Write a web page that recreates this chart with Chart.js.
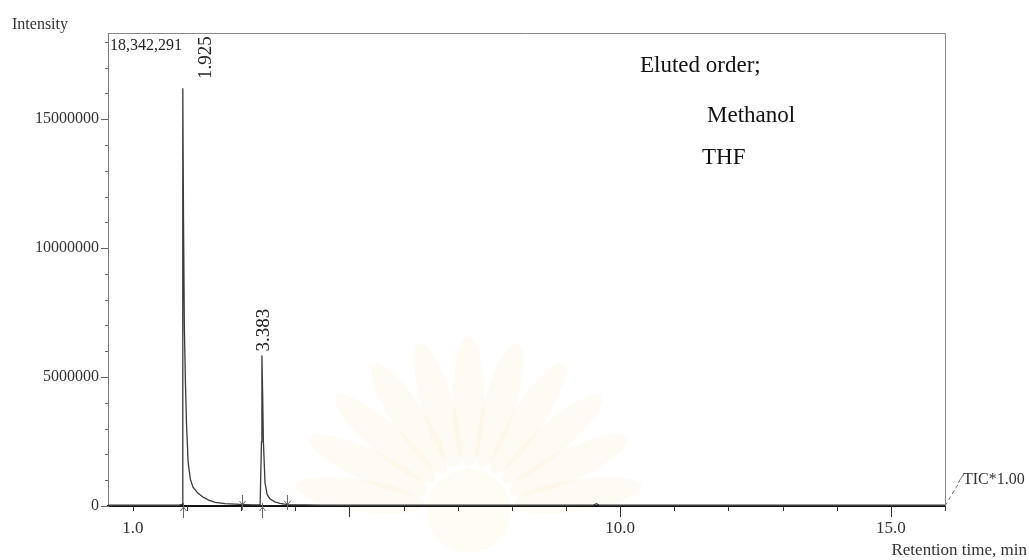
<!DOCTYPE html>
<html>
<head>
<meta charset="utf-8">
<script src="https://cdn.jsdelivr.net/npm/chart.js@4.4.1/dist/chart.umd.min.js"></script>
<style>
  html, body { margin: 0; padding: 0; background: #fff; }
  #wrap { width: 1029px; height: 560px; }
</style>
</head>
<body>
<div id="wrap"><canvas id="chromChart" width="1029" height="560"></canvas></div>
<script>
// chromatogram trace (retention time in min, intensity in counts)
const retentionTimes = [0.54, 1.0, 1.5, 1.85, 1.91, 1.918, 1.925, 1.935, 1.95, 1.97, 1.99, 2.02, 2.06, 2.11, 2.2, 2.29, 2.4, 2.52, 2.7, 2.98, 3.2, 3.35, 3.375, 3.383, 3.395, 3.41, 3.44, 3.48, 3.53, 3.62, 3.72, 3.85, 4.5, 9.5, 9.56, 9.62, 16.0];
const intensities = [30000, 30000, 30000, 30000, 60000, 6000000, 16200000, 11000000, 7000000, 4800000, 3200000, 1700000, 1050000, 730000, 500000, 350000, 230000, 140000, 90000, 60000, 40000, 40000, 2500000, 5840000, 4500000, 2500000, 900000, 450000, 280000, 160000, 100000, 50000, 30000, 30000, 90000, 30000, 30000];

// peak labels
const peakTimes = [1.925, 3.383];
const peakHeights = [16200000, 5840000];
const peakLabels = ['1.925', '3.383'];

// integration markers
const peakStartMarks = [1.925, 3.383];
const peakEndMarks = [3.01, 3.85];

// axes
const yMax = 18342291;
const yTickLabels = [0, 5000000, 10000000, 15000000];
const xTickLabels = [1.0, 10.0, 15.0];
const xMajorTicks = [5, 10, 15];

const serif = '"Liberation Serif", "Times New Roman", serif';

const points = retentionTimes.map((t, i) => ({ x: t, y: intensities[i] }));

const decorPlugin = {
    id: 'decor',
    beforeDraw(chart) {
        // faint watermark behind the trace
        const { ctx } = chart;
        const cx = chart.scales.x.getPixelForValue(7.2);
        const cy = chart.scales.y.getPixelForValue(0) + 5;
        ctx.save();
        for (let k = 0; k < 11; k++) {
            const a = Math.PI + (k + 0.5) * Math.PI / 11;
            ctx.save();
            ctx.translate(cx + Math.cos(a) * 110, cy + Math.sin(a) * 110);
            ctx.rotate(a);
            ctx.fillStyle = 'rgba(250, 228, 175, 0.14)';
            ctx.beginPath();
            ctx.ellipse(0, 0, 65, 16, 0, 0, Math.PI * 2);
            ctx.fill();
            ctx.restore();
        }
        ctx.fillStyle = 'rgba(250, 228, 175, 0.12)';
        ctx.beginPath();
        ctx.arc(cx, cy, 42, 0, Math.PI * 2);
        ctx.fill();
        ctx.restore();
    },
    afterDraw(chart) {
        const { ctx, chartArea: area } = chart;
        const xs = chart.scales.x;
        const ys = chart.scales.y;
        const y0 = ys.getPixelForValue(0);
        ctx.save();

        // top and right frame
        ctx.strokeStyle = '#8a8a8a';
        ctx.lineWidth = 1;
        ctx.beginPath();
        ctx.moveTo(area.left, area.top + 0.5);
        ctx.lineTo(area.right + 0.5, area.top + 0.5);
        ctx.lineTo(area.right + 0.5, y0);
        ctx.stroke();

        // y tick marks
        ctx.strokeStyle = '#666';
        ys.ticks.forEach(t => {
            const py = Math.round(ys.getPixelForValue(t.value)) + 0.5;
            const len = t.value % 5000000 === 0 ? 7 : 3;
            ctx.beginPath();
            ctx.moveTo(area.left - len, py);
            ctx.lineTo(area.left, py);
            ctx.stroke();
        });

        // x tick marks
        ctx.strokeStyle = '#333';
        xs.ticks.forEach(t => {
            const px = Math.round(xs.getPixelForValue(t.value)) + 0.5;
            const len = xMajorTicks.includes(t.value) ? 11 : 5;
            ctx.beginPath();
            ctx.moveTo(px, y0);
            ctx.lineTo(px, y0 + len);
            ctx.stroke();
        });

        // integration markers
        ctx.strokeStyle = '#666';
        peakStartMarks.forEach(t => {
            const px = Math.round(xs.getPixelForValue(t)) + 0.5;
            ctx.beginPath();
            ctx.moveTo(px, y0 + 12);
            ctx.lineTo(px, y0 - 3);
            ctx.moveTo(px - 3, y0 + 5);
            ctx.lineTo(px, y0 + 1);
            ctx.lineTo(px + 3, y0 + 5);
            ctx.stroke();
        });
        peakEndMarks.forEach(t => {
            const px = Math.round(xs.getPixelForValue(t)) + 0.5;
            ctx.beginPath();
            ctx.moveTo(px, y0 - 11);
            ctx.lineTo(px, y0 + 4);
            ctx.moveTo(px - 3, y0 - 5);
            ctx.lineTo(px, y0 - 1);
            ctx.lineTo(px + 3, y0 - 5);
            ctx.stroke();
        });

        // peak retention time labels (read bottom to top)
        ctx.fillStyle = '#222';
        ctx.font = '19px ' + serif;
        ctx.textAlign = 'left';
        ctx.textBaseline = 'middle';
        peakLabels.forEach((lab, i) => {
            let px = xs.getPixelForValue(peakTimes[i]) + 1;
            let py = ys.getPixelForValue(peakHeights[i]) - 4;
            if (py - 60 < area.top) {
                // no room above the peak: put the label beside it
                px += 21;
                py = area.top + 46;
            }
            ctx.save();
            ctx.translate(px, py);
            ctx.rotate(-Math.PI / 2);
            ctx.fillText(lab, 0, 1);
            ctx.restore();
        });

        // texts
        ctx.textAlign = 'left';
        ctx.textBaseline = 'alphabetic';
        ctx.fillStyle = '#333';
        ctx.font = '16px ' + serif;
        ctx.fillText('Intensity', 12, 29);
        ctx.fillStyle = '#222';
        ctx.fillText('18,342,291', area.left + 2, 50);

        ctx.fillStyle = '#111';
        ctx.font = '23px ' + serif;
        ctx.fillText('Eluted order;', 640, 72);
        ctx.fillText('Methanol', 707, 122);
        ctx.fillText('THF', 702, 164);

        ctx.fillStyle = '#333';
        ctx.font = '16px ' + serif;
        ctx.fillText('TIC*1.00', 963, 484);
        ctx.textAlign = 'right';
        ctx.font = '17px ' + serif;
        ctx.fillText('Retention time, min', 1027, 555);

        // channel marker
        ctx.strokeStyle = '#777';
        ctx.setLineDash([4, 3]);
        ctx.beginPath();
        ctx.moveTo(area.right, y0);
        ctx.lineTo(area.right + 15, y0 - 25);
        ctx.stroke();
        ctx.setLineDash([]);
        ctx.beginPath();
        ctx.moveTo(area.right + 13, y0 - 23);
        ctx.lineTo(area.right + 18, y0 - 31);
        ctx.stroke();

        ctx.restore();
    }
};

new Chart(document.getElementById('chromChart').getContext('2d'), {
    type: 'line',
    data: {
        datasets: [{
            data: points,
            borderColor: '#3a3a3a',
            borderWidth: 1.3,
            pointRadius: 0,
            tension: 0,
            fill: false
        }]
    },
    options: {
        responsive: false,
        animation: false,
        events: [],
        layout: { padding: { left: 0, right: 84, top: 33, bottom: 0 } },
        plugins: {
            legend: { display: false },
            tooltip: { enabled: false }
        },
        scales: {
            x: {
                type: 'linear',
                min: 0.54,
                max: 16.0,
                afterBuildTicks: (scale) => {
                    const ticks = [];
                    for (let v = 1; v <= 16; v++) ticks.push({ value: v });
                    scale.ticks = ticks;
                },
                afterFit: (scale) => { scale.height = 54; },
                grid: { drawOnChartArea: false, drawTicks: false },
                border: { color: '#111', width: 2 },
                ticks: {
                    autoSkip: false,
                    maxRotation: 0,
                    padding: 12,
                    color: '#333',
                    font: { family: serif, size: 17 },
                    callback: (v) => xTickLabels.includes(v) ? v.toFixed(1) : ''
                }
            },
            y: {
                min: 0,
                max: yMax,
                afterBuildTicks: (scale) => {
                    const ticks = [];
                    for (let v = 0; v <= 18000000; v += 1000000) ticks.push({ value: v });
                    scale.ticks = ticks;
                },
                afterFit: (scale) => { scale.width = 108; },
                grid: { drawOnChartArea: false, drawTicks: false },
                border: { color: '#777', width: 1 },
                ticks: {
                    autoSkip: false,
                    padding: 9,
                    color: '#333',
                    font: { family: serif, size: 16 },
                    callback: (v) => yTickLabels.includes(v) ? String(v) : ''
                }
            }
        }
    },
    plugins: [decorPlugin]
});
</script>
</body>
</html>
